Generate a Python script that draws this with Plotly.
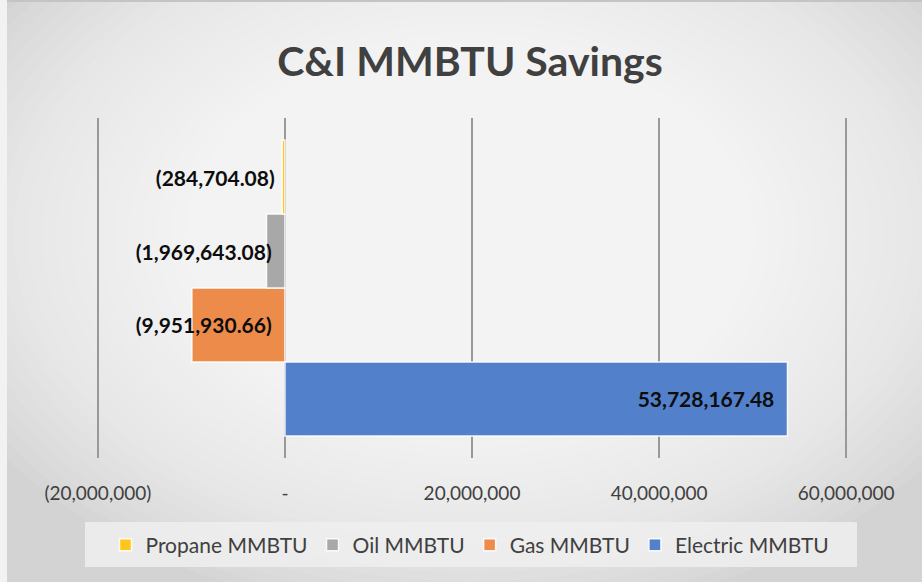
import plotly.graph_objects as go

# ---- data ----
series_names = ["Electric MMBTU", "Gas MMBTU", "Oil MMBTU", "Propane MMBTU"]
series_values = [53728167.48, -9951930.66, -1969643.08, -284704.08]
series_colors = ["#5280CA", "#ED8B4B", "#A8A8A8", "#FFC61A"]
category = ["C&I"]
tick_vals = [-20000000, 0, 20000000, 40000000, 60000000]
tick_text = ["(20,000,000)", "-", "20,000,000", "40,000,000", "60,000,000"]
title_text = "C&I MMBTU Savings"

W, H = 922, 582
L, R, T, B = 96, 74, 118, 124
PW, PH = W - L - R, H - T - B


def fmt(v):
    s = f"{abs(v):,.2f}"
    return f"({s})" if v < 0 else s


def px(x):
    return (x - L) / PW


def py(y):
    return (H - B - y) / PH


PAD = "\u00a0\u00a0"

fig = go.Figure()
for name, val, col in zip(series_names, series_values, series_colors):
    fig.add_trace(go.Bar(
        y=category, x=[val], name=name, orientation="h",
        marker=dict(color=col, line=dict(color="rgba(255,255,255,0.9)", width=1.5)),
        text=[fmt(val) + PAD],
        textposition="inside",
        insidetextanchor="end" if val >= 0 else "start",
        textangle=0,
        constraintext="none",
        cliponaxis=False,
        textfont=dict(family="Lato", size=21, color="#0d0d0d", weight="bold"),
        hoverinfo="x+name",
    ))

shapes = []
# radial-like gradient background
cx, cy = 470, 235
n = 40
for i in range(n):
    f = 1 - i / n
    rx, ry = 570 * f, 385 * f
    shapes.append(dict(type="circle", xref="paper", yref="paper",
                       x0=px(cx - rx), x1=px(cx + rx), y0=py(cy + ry), y1=py(cy - ry),
                       fillcolor="rgba(255,255,255,0.075)", line=dict(width=0), layer="below"))
# left light strip and top dark edge
shapes.append(dict(type="rect", xref="paper", yref="paper", x0=px(0), x1=px(7), y0=py(H), y1=py(0),
                   fillcolor="#f2f2f2", line=dict(width=0), layer="below"))
shapes.append(dict(type="rect", xref="paper", yref="paper", x0=px(7), x1=px(W), y0=py(2), y1=py(0),
                   fillcolor="#c4c4c4", line=dict(width=0), layer="below"))
# legend box
shapes.append(dict(type="rect", xref="paper", yref="paper", x0=px(85), x1=px(857), y0=py(567), y1=py(522),
                   fillcolor="rgba(238,238,238,0.85)", line=dict(width=0), layer="below"))

fig.update_layout(
    width=W, height=H,
    margin=dict(l=L, r=R, t=T, b=B),
    paper_bgcolor="#d3d3d3",
    plot_bgcolor="rgba(0,0,0,0)",
    barmode="group", bargap=0.13, bargroupgap=0,
    title=dict(text=title_text, x=470 / W, xanchor="center", y=1 - 62 / H, yanchor="middle",
               font=dict(family="Lato", size=41, color="#404040", weight="bold")),
    xaxis=dict(range=[-20200000, 60200000], tickvals=tick_vals, ticktext=tick_text,
               showgrid=True, gridcolor="#999999", gridwidth=2, zeroline=False,
               showline=False, ticks="", ticklabelstandoff=22,
               tickfont=dict(family="Lato", size=19, color="#404040"), layer="above traces"),
    yaxis=dict(showticklabels=False, showgrid=False, zeroline=False, showline=False, ticks=""),
    legend=dict(orientation="h", x=px(470), xanchor="center", y=py(545), yanchor="middle",
                traceorder="reversed", bgcolor="rgba(0,0,0,0)",
                font=dict(family="Lato", size=21, color="#404040"), itemwidth=30),
    shapes=shapes,
    showlegend=True,
)

fig.write_html("out.html", config={"displayModeBar": False},
               post_script="document.body.style.margin='0';")
